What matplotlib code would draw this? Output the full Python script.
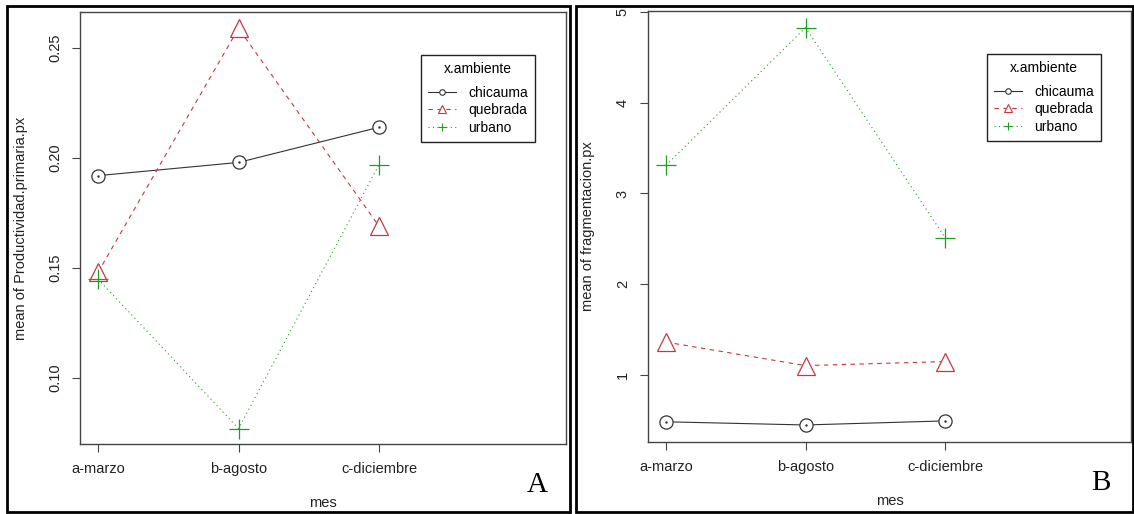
import matplotlib
matplotlib.use("Agg")
import matplotlib.pyplot as plt
from matplotlib.lines import Line2D
from matplotlib.patches import Rectangle

plt.rcParams['font.family'] = ['Liberation Sans', 'DejaVu Sans']

# datos
mes = ['a-marzo', 'b-agosto', 'c-diciembre']
ambientes = ['chicauma', 'quebrada', 'urbano']

prod_chicauma = [0.192, 0.198, 0.214]
prod_quebrada = [0.148, 0.259, 0.169]
prod_urbano = [0.145, 0.077, 0.197]

frag_chicauma = [0.48, 0.445, 0.49]
frag_quebrada = [1.36, 1.10, 1.145]
frag_urbano = [3.31, 4.83, 2.51]

prod_ticks = [0.10, 0.15, 0.20, 0.25]
frag_ticks = [1, 2, 3, 4, 5]

# estilos tipo R interaction.plot
colores = {'chicauma': '#333333', 'quebrada': '#c8373d', 'urbano': '#1f9e1f'}
marcas = {'chicauma': 'o', 'quebrada': '^', 'urbano': '+'}
tam = {'chicauma': 9.5, 'quebrada': 12.5, 'urbano': 14}
guiones = {'chicauma': None, 'quebrada': (4, 4), 'urbano': (1, 3)}

fig = plt.figure(figsize=(11.34, 5.14), dpi=100)
W, H = 1134, 514

# marcos exteriores de cada panel
for x0, x1 in [(7, 570), (576, 1133)]:
    fig.patches.append(Rectangle((x0 / W, 1 - 512 / H), (x1 - x0) / W, (512 - 6) / H,
                                 transform=fig.transFigure, fill=False,
                                 edgecolor='black', linewidth=2))


def panel(rect, series, ylim, yticks, ylabel, ylab_x, letra, letra_pos):
    ax = fig.add_axes(rect)
    x = [1, 2, 3]
    handles = []
    for nombre, vals in zip(ambientes, series):
        c = colores[nombre]
        ln, = ax.plot(x, vals, color=c, linewidth=0.8)
        if guiones[nombre] is not None:
            ln.set_dashes(guiones[nombre])
        ax.plot(x, vals, linestyle='none', marker=marcas[nombre], markersize=tam[nombre],
                markerfacecolor='white' if nombre != 'urbano' else c,
                markeredgecolor=c, markeredgewidth=0.9)
        if nombre == 'chicauma':
            ax.plot(x, vals, linestyle='none', marker='.', markersize=1.5, color=c)
        h = Line2D([], [], color=c, linewidth=0.8, marker=marcas[nombre],
                   markersize=tam[nombre] * 0.42, markerfacecolor='white',
                   markeredgecolor=c, markeredgewidth=0.8)
        if guiones[nombre] is not None:
            h.set_dashes(guiones[nombre])
        handles.append(h)

    ax.set_xlim(0.872, 4.33)
    ax.set_ylim(*ylim)
    ax.set_xticks(x)
    ax.set_xticklabels(mes)
    ax.set_yticks(yticks)
    if isinstance(yticks[0], float):
        ax.set_yticklabels(['%.2f' % t for t in yticks])
    for lab in ax.get_yticklabels():
        lab.set_rotation(90)
        lab.set_va('center')
    ax.tick_params(direction='out', length=6, width=0.8, color='#444444',
                   labelsize=10.5, labelcolor='#222222', pad=7)
    for s in ax.spines.values():
        s.set_color('#444444')
        s.set_linewidth(1.0)

    ax.set_xlabel('mes', fontsize=10.5, color='#222222')
    ax.xaxis.set_label_coords(0.5, -0.121)
    ax.set_ylabel(ylabel, fontsize=10.5, color='#222222')
    ax.yaxis.set_label_coords(ylab_x, 0.5)

    leg = ax.legend(handles, ambientes, title='x.ambiente', loc='upper left',
                    bbox_to_anchor=(0.702, 0.90), borderaxespad=0, fontsize=10,
                    title_fontsize=10, fancybox=False, edgecolor='#222222',
                    framealpha=1, handlelength=2.0, handletextpad=0.9,
                    labelspacing=0.25, borderpad=0.5)
    leg.get_frame().set_linewidth(1.0)
    # mas espacio entre el titulo y las entradas, como en R
    leg._legend_box.sep = 7

    fig.text(letra_pos[0] / W, 1 - letra_pos[1] / H, letra, family='Liberation Serif',
             fontsize=21, ha='center', va='center')
    return ax


panel([80 / W, 1 - 444 / H, 486 / W, 432 / H],
      [prod_chicauma, prod_quebrada, prod_urbano], (0.07, 0.2664), prod_ticks,
      'mean of Productividad.primaria.px', -0.107, 'A', (537, 485))

panel([648 / W, 1 - 442 / H, 483 / W, 431 / H],
      [frag_chicauma, frag_quebrada, frag_urbano], (0.257, 5.014), frag_ticks,
      'mean of fragmentacion.px', -0.11, 'B', (1101, 483))

fig.savefig('out.png', dpi=100)
